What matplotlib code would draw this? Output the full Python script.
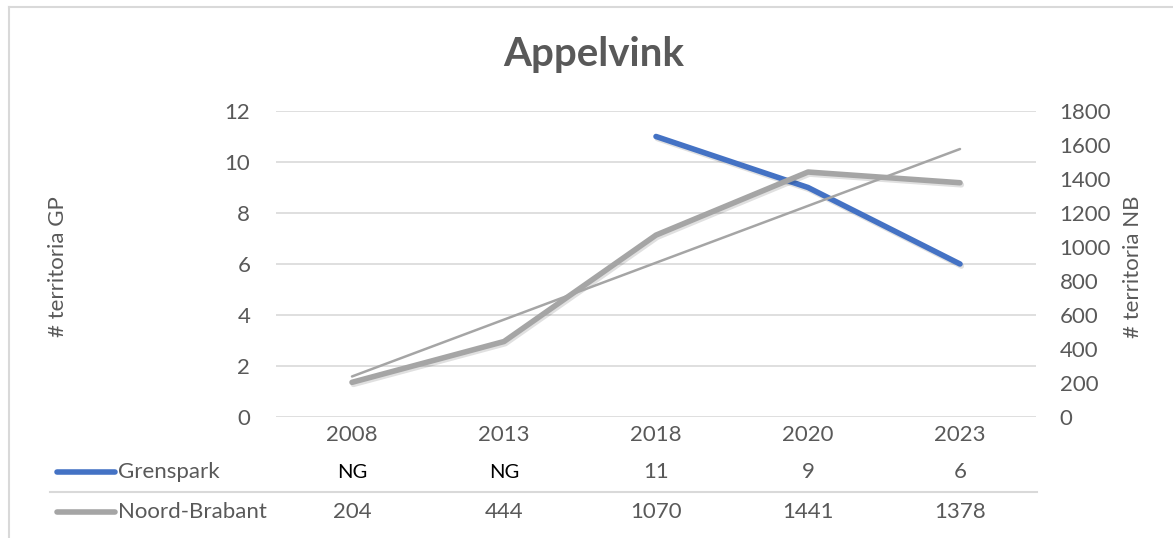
import numpy as np
import matplotlib
matplotlib.use("Agg")
import matplotlib.pyplot as plt
import matplotlib.patheffects as pe
from matplotlib.lines import Line2D
from matplotlib.patches import Rectangle
from matplotlib.transforms import blended_transform_factory

# Datos
jaren = ["2008", "2013", "2018", "2020", "2023"]
grenspark = [np.nan, np.nan, 11, 9, 6]
grenspark_tabel = ["NG", "NG", "11", "9", "6"]
noord_brabant = [204, 444, 1070, 1441, 1378]

plt.rcParams['font.family'] = ['Lato', 'DejaVu Sans']
grijs_tekst = "#595959"
blauw = "#4472C4"
grijs = "#A5A5A5"
raster = "#D9D9D9"
fs = 16

W = 1173.0
H = 538.0

fig = plt.figure(figsize=(11.73, 5.38), dpi=100)
ax = fig.add_axes([0.2353, 0.2249, 0.6479, 0.5688])
ax2 = ax.twinx()

x = np.arange(len(jaren))
schaduw = [pe.SimpleLineShadow(offset=(1, -1.5), alpha=0.12, shadow_color="black"), pe.Normal()]

ax.plot(x, grenspark, color=blauw, lw=4, solid_capstyle="round",
        solid_joinstyle="round", path_effects=schaduw, zorder=3)
ax2.plot(x, noord_brabant, color=grijs, lw=4, solid_capstyle="round",
         solid_joinstyle="round", path_effects=schaduw, zorder=3)

# lineaire trendlijn (zoals Excel)
coef = np.polyfit(x, noord_brabant, 1)
ax2.plot(x, np.polyval(coef, x), color=grijs, lw=1.8, solid_capstyle="round", zorder=4)

ax.set_xlim(-0.5, 4.5)
ax.set_ylim(0, 12)
ax.set_yticks(range(0, 13, 2))
ax2.set_ylim(0, 1800)
ax2.set_yticks(range(0, 1801, 200))
ax.grid(axis="y", color=raster, lw=1.2)
ax.set_axisbelow(True)

for a in (ax, ax2):
    for s in a.spines.values():
        s.set_visible(False)
    a.tick_params(length=0, labelsize=fs, labelcolor=grijs_tekst)
ax.tick_params(axis="y", pad=18.5)
ax2.tick_params(axis="y", pad=17)
ax.set_xticks(x)
ax.set_xticklabels(jaren)
ax.tick_params(axis="x", pad=6)

fig.text(58 / W, 1 - 267 / H, "# territoria GP", rotation=90, ha="center", va="center",
         fontsize=fs, color=grijs_tekst)
fig.text(1133 / W, 1 - 267 / H, "# territoria NB", rotation=90, ha="center", va="center",
         fontsize=fs, color=grijs_tekst)

fig.text(594 / W, 1 - 55 / H, "Appelvink", ha="center", va="center", fontsize=29,
         fontweight="bold", color=grijs_tekst)

# Datatabel
fig.add_artist(Line2D([50 / W, 1037 / W], [1 - 492 / H] * 2, color=raster, lw=1.5))
rij1 = 1 - 472 / H
rij2 = 1 - 512 / H
fig.add_artist(Line2D([57 / W, 115 / W], [rij1] * 2, color=blauw, lw=4, solid_capstyle="round"))
fig.add_artist(Line2D([57 / W, 115 / W], [rij2] * 2, color=grijs, lw=4, solid_capstyle="round"))
fig.text(118 / W, rij1, "Grenspark", fontsize=fs, color=grijs_tekst, va="center")
fig.text(118 / W, rij2, "Noord-Brabant", fontsize=fs, color=grijs_tekst, va="center")

tr = blended_transform_factory(ax.transData, fig.transFigure)
for i, (g, n) in enumerate(zip(grenspark_tabel, noord_brabant)):
    if g == "NG":
        ax.add_artist(Rectangle((i - 0.235, 1 - 500 / H), 0.47, 40 / H, transform=tr,
                                facecolor="white", edgecolor="none", clip_on=False, zorder=5))
        ax.text(i, rij1, g, transform=tr, ha="center", va="center", fontsize=14.5,
                color="black", zorder=6, clip_on=False)
    else:
        ax.text(i, rij1, g, transform=tr, ha="center", va="center", fontsize=fs,
                color=grijs_tekst, clip_on=False)
    ax.text(i, rij2, str(n), transform=tr, ha="center", va="center", fontsize=fs,
            color=grijs_tekst, clip_on=False)

# rand van de grafiek
fig.add_artist(Line2D([8.5 / W, 1], [1 - 6.5 / H] * 2, color=raster, lw=1.5))
fig.add_artist(Line2D([8.5 / W] * 2, [0, 1 - 6.5 / H], color=raster, lw=1.5))

fig.savefig("out.png", dpi=100)
